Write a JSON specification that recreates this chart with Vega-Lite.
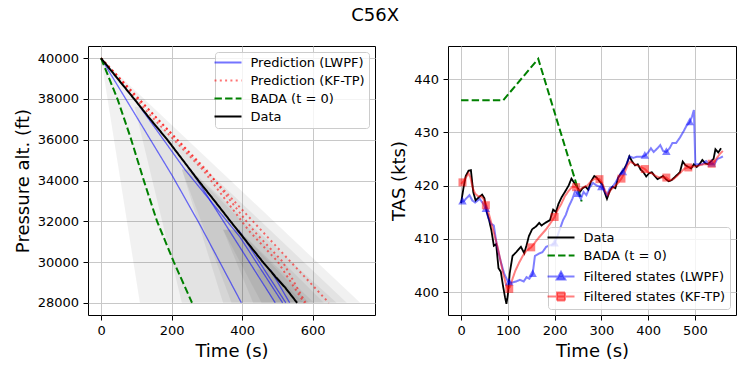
{
  "$schema": "https://vega.github.io/schema/vega-lite/v6.json",
  "padding": {"left": 13, "top": 6, "right": 5, "bottom": 5},
  "title": {"text": "C56X", "fontSize": 18, "font": "DejaVu Sans", "fontWeight": "normal", "color": "black", "anchor": "middle", "offset": 21},
  "datasets": {
    "cones": [
      {"cone": "c0", "alt": 40000, "lo": 0, "hi": 0}, {"cone": "c0", "alt": 28000, "lo": 110, "hi": 735},
      {"cone": "c1", "alt": 37624, "lo": 95, "hi": 110}, {"cone": "c1", "alt": 28000, "lo": 229, "hi": 697},
      {"cone": "c2", "alt": 34535, "lo": 229, "hi": 253}, {"cone": "c2", "alt": 28000, "lo": 346, "hi": 668},
      {"cone": "c3", "alt": 34535, "lo": 229, "hi": 253}, {"cone": "c3", "alt": 28000, "lo": 370, "hi": 632},
      {"cone": "c4", "alt": 31580, "lo": 346, "hi": 390}, {"cone": "c4", "alt": 28000, "lo": 431, "hi": 604},
      {"cone": "c5", "alt": 31580, "lo": 346, "hi": 390}, {"cone": "c5", "alt": 28000, "lo": 455, "hi": 590},
      {"cone": "c6", "alt": 29630, "lo": 440, "hi": 480}, {"cone": "c6", "alt": 28000, "lo": 490, "hi": 575}
    ],
    "alt": [
      {"series": "Prediction (LWPF)", "id": "b0", "t": 0, "alt": 40000},
      {"series": "Prediction (LWPF)", "id": "b0", "t": 203, "alt": 34205},
      {"series": "Prediction (LWPF)", "id": "b0", "t": 281, "alt": 31812},
      {"series": "Prediction (LWPF)", "id": "b0", "t": 398, "alt": 28000},
      {"series": "Prediction (LWPF)", "id": "b1", "t": 253, "alt": 34535},
      {"series": "Prediction (LWPF)", "id": "b1", "t": 281, "alt": 33796},
      {"series": "Prediction (LWPF)", "id": "b1", "t": 494, "alt": 28000},
      {"series": "Prediction (LWPF)", "id": "b2", "t": 110, "alt": 37624},
      {"series": "Prediction (LWPF)", "id": "b2", "t": 238, "alt": 34535},
      {"series": "Prediction (LWPF)", "id": "b2", "t": 393, "alt": 31250},
      {"series": "Prediction (LWPF)", "id": "b2", "t": 515, "alt": 28000},
      {"series": "Prediction (LWPF)", "id": "b3", "t": 390, "alt": 31580},
      {"series": "Prediction (LWPF)", "id": "b3", "t": 524, "alt": 28000},
      {"series": "Prediction (LWPF)", "id": "b4", "t": 480, "alt": 29630},
      {"series": "Prediction (LWPF)", "id": "b4", "t": 535, "alt": 28000},
      {"series": "Prediction (KF-TP)", "id": "rA", "t": 0, "alt": 40000},
      {"series": "Prediction (KF-TP)", "id": "rA", "t": 140, "alt": 37200},
      {"series": "Prediction (KF-TP)", "id": "rA", "t": 290, "alt": 34500},
      {"series": "Prediction (KF-TP)", "id": "rA", "t": 421, "alt": 31500},
      {"series": "Prediction (KF-TP)", "id": "rA", "t": 501, "alt": 30020},
      {"series": "Prediction (KF-TP)", "id": "rA", "t": 576, "alt": 28000},
      {"series": "Prediction (KF-TP)", "id": "rB", "t": 0, "alt": 40000},
      {"series": "Prediction (KF-TP)", "id": "rB", "t": 150, "alt": 37200},
      {"series": "Prediction (KF-TP)", "id": "rB", "t": 300, "alt": 34500},
      {"series": "Prediction (KF-TP)", "id": "rB", "t": 435, "alt": 31500},
      {"series": "Prediction (KF-TP)", "id": "rB", "t": 515, "alt": 30020},
      {"series": "Prediction (KF-TP)", "id": "rB", "t": 580, "alt": 28000},
      {"series": "Prediction (KF-TP)", "id": "rC", "t": 0, "alt": 40000},
      {"series": "Prediction (KF-TP)", "id": "rC", "t": 646, "alt": 28000},
      {"series": "BADA (t = 0)", "id": "g", "t": 0, "alt": 40000},
      {"series": "BADA (t = 0)", "id": "g", "t": 47, "alt": 37981},
      {"series": "BADA (t = 0)", "id": "g", "t": 84, "alt": 36091},
      {"series": "BADA (t = 0)", "id": "g", "t": 122, "alt": 33959},
      {"series": "BADA (t = 0)", "id": "g", "t": 159, "alt": 31990},
      {"series": "BADA (t = 0)", "id": "g", "t": 206, "alt": 30020},
      {"series": "BADA (t = 0)", "id": "g", "t": 258, "alt": 28000},
      {"series": "Data", "id": "d", "t": 0, "alt": 40000},
      {"series": "Data", "id": "d", "t": 47, "alt": 39000},
      {"series": "Data", "id": "d", "t": 94, "alt": 38000},
      {"series": "Data", "id": "d", "t": 140, "alt": 37000},
      {"series": "Data", "id": "d", "t": 188, "alt": 36000},
      {"series": "Data", "id": "d", "t": 232, "alt": 35000},
      {"series": "Data", "id": "d", "t": 276, "alt": 34000},
      {"series": "Data", "id": "d", "t": 322, "alt": 33000},
      {"series": "Data", "id": "d", "t": 367, "alt": 32000},
      {"series": "Data", "id": "d", "t": 413, "alt": 31000},
      {"series": "Data", "id": "d", "t": 459, "alt": 30000},
      {"series": "Data", "id": "d", "t": 496, "alt": 29250},
      {"series": "Data", "id": "d", "t": 522, "alt": 28750},
      {"series": "Data", "id": "d", "t": 556, "alt": 28000}
    ],
    "tas": [
      {"series": "Data", "t": 0, "v": 416.7}, {"series": "Data", "t": 5, "v": 419.5}, {"series": "Data", "t": 10, "v": 421.8},
      {"series": "Data", "t": 16, "v": 422.8}, {"series": "Data", "t": 21, "v": 422.9}, {"series": "Data", "t": 26, "v": 418.8},
      {"series": "Data", "t": 31, "v": 417.2}, {"series": "Data", "t": 38, "v": 417.8}, {"series": "Data", "t": 45, "v": 418.3},
      {"series": "Data", "t": 50, "v": 417.6}, {"series": "Data", "t": 55, "v": 415.0}, {"series": "Data", "t": 60, "v": 413.5},
      {"series": "Data", "t": 65, "v": 411.5}, {"series": "Data", "t": 70, "v": 408.7}, {"series": "Data", "t": 75, "v": 409.0},
      {"series": "Data", "t": 80, "v": 404.5}, {"series": "Data", "t": 85, "v": 403.8}, {"series": "Data", "t": 90, "v": 401.0},
      {"series": "Data", "t": 94, "v": 399.0}, {"series": "Data", "t": 97, "v": 397.8}, {"series": "Data", "t": 100, "v": 399.5},
      {"series": "Data", "t": 104, "v": 403.5}, {"series": "Data", "t": 110, "v": 406.8}, {"series": "Data", "t": 118, "v": 407.5},
      {"series": "Data", "t": 128, "v": 408.5}, {"series": "Data", "t": 135, "v": 407.3}, {"series": "Data", "t": 140, "v": 408.8},
      {"series": "Data", "t": 145, "v": 410.5}, {"series": "Data", "t": 152, "v": 411.8}, {"series": "Data", "t": 160, "v": 412.3},
      {"series": "Data", "t": 167, "v": 413.0}, {"series": "Data", "t": 172, "v": 412.5}, {"series": "Data", "t": 180, "v": 413.0},
      {"series": "Data", "t": 190, "v": 413.5}, {"series": "Data", "t": 197, "v": 415.5}, {"series": "Data", "t": 203, "v": 415.0},
      {"series": "Data", "t": 208, "v": 416.5}, {"series": "Data", "t": 215, "v": 417.8}, {"series": "Data", "t": 222, "v": 418.8},
      {"series": "Data", "t": 230, "v": 420.0}, {"series": "Data", "t": 236, "v": 421.3}, {"series": "Data", "t": 242, "v": 420.5},
      {"series": "Data", "t": 248, "v": 419.8}, {"series": "Data", "t": 254, "v": 418.8}, {"series": "Data", "t": 260, "v": 419.5},
      {"series": "Data", "t": 266, "v": 419.8}, {"series": "Data", "t": 272, "v": 419.2}, {"series": "Data", "t": 278, "v": 420.8},
      {"series": "Data", "t": 285, "v": 421.8}, {"series": "Data", "t": 290, "v": 421.5}, {"series": "Data", "t": 296, "v": 420.8},
      {"series": "Data", "t": 302, "v": 420.2}, {"series": "Data", "t": 308, "v": 418.5}, {"series": "Data", "t": 312, "v": 417.5},
      {"series": "Data", "t": 318, "v": 419.0}, {"series": "Data", "t": 324, "v": 419.8}, {"series": "Data", "t": 330, "v": 419.5},
      {"series": "Data", "t": 336, "v": 421.5}, {"series": "Data", "t": 342, "v": 422.3}, {"series": "Data", "t": 348, "v": 423.0},
      {"series": "Data", "t": 354, "v": 424.0}, {"series": "Data", "t": 360, "v": 425.5}, {"series": "Data", "t": 366, "v": 424.5},
      {"series": "Data", "t": 372, "v": 423.8}, {"series": "Data", "t": 378, "v": 424.0}, {"series": "Data", "t": 384, "v": 423.0},
      {"series": "Data", "t": 390, "v": 422.5}, {"series": "Data", "t": 396, "v": 421.7}, {"series": "Data", "t": 402, "v": 422.3},
      {"series": "Data", "t": 408, "v": 422.5}, {"series": "Data", "t": 414, "v": 421.8}, {"series": "Data", "t": 420, "v": 421.2},
      {"series": "Data", "t": 426, "v": 421.5}, {"series": "Data", "t": 432, "v": 421.8}, {"series": "Data", "t": 438, "v": 421.2},
      {"series": "Data", "t": 444, "v": 420.8}, {"series": "Data", "t": 450, "v": 421.0}, {"series": "Data", "t": 456, "v": 421.5},
      {"series": "Data", "t": 462, "v": 422.0}, {"series": "Data", "t": 468, "v": 422.5}, {"series": "Data", "t": 474, "v": 424.5},
      {"series": "Data", "t": 480, "v": 423.8}, {"series": "Data", "t": 486, "v": 423.5}, {"series": "Data", "t": 492, "v": 423.2},
      {"series": "Data", "t": 498, "v": 424.0}, {"series": "Data", "t": 504, "v": 423.5}, {"series": "Data", "t": 510, "v": 424.0},
      {"series": "Data", "t": 516, "v": 424.8}, {"series": "Data", "t": 522, "v": 424.2}, {"series": "Data", "t": 528, "v": 424.0},
      {"series": "Data", "t": 534, "v": 424.5}, {"series": "Data", "t": 540, "v": 425.0}, {"series": "Data", "t": 544, "v": 426.8},
      {"series": "Data", "t": 550, "v": 426.2}, {"series": "Data", "t": 556, "v": 427.0},
      {"series": "BADA (t = 0)", "t": 0, "v": 436.0}, {"series": "BADA (t = 0)", "t": 90, "v": 436.0},
      {"series": "BADA (t = 0)", "t": 165, "v": 443.8}, {"series": "BADA (t = 0)", "t": 258, "v": 417.0},
      {"series": "Filtered states (LWPF)", "t": 0, "v": 417.0}, {"series": "Filtered states (LWPF)", "t": 5, "v": 417.0},
      {"series": "Filtered states (LWPF)", "t": 10, "v": 417.5}, {"series": "Filtered states (LWPF)", "t": 18, "v": 418.2},
      {"series": "Filtered states (LWPF)", "t": 24, "v": 417.2}, {"series": "Filtered states (LWPF)", "t": 30, "v": 416.8},
      {"series": "Filtered states (LWPF)", "t": 40, "v": 417.5}, {"series": "Filtered states (LWPF)", "t": 48, "v": 416.5},
      {"series": "Filtered states (LWPF)", "t": 53, "v": 415.6}, {"series": "Filtered states (LWPF)", "t": 58, "v": 414.0},
      {"series": "Filtered states (LWPF)", "t": 64, "v": 412.8}, {"series": "Filtered states (LWPF)", "t": 70, "v": 412.5},
      {"series": "Filtered states (LWPF)", "t": 76, "v": 409.0}, {"series": "Filtered states (LWPF)", "t": 84, "v": 406.0},
      {"series": "Filtered states (LWPF)", "t": 92, "v": 403.5}, {"series": "Filtered states (LWPF)", "t": 100, "v": 402.0},
      {"series": "Filtered states (LWPF)", "t": 104, "v": 401.8}, {"series": "Filtered states (LWPF)", "t": 110, "v": 401.8},
      {"series": "Filtered states (LWPF)", "t": 118, "v": 402.0}, {"series": "Filtered states (LWPF)", "t": 126, "v": 402.3},
      {"series": "Filtered states (LWPF)", "t": 134, "v": 402.0}, {"series": "Filtered states (LWPF)", "t": 140, "v": 402.8},
      {"series": "Filtered states (LWPF)", "t": 146, "v": 402.5}, {"series": "Filtered states (LWPF)", "t": 153, "v": 403.4},
      {"series": "Filtered states (LWPF)", "t": 158, "v": 406.8}, {"series": "Filtered states (LWPF)", "t": 166, "v": 407.2},
      {"series": "Filtered states (LWPF)", "t": 174, "v": 407.5}, {"series": "Filtered states (LWPF)", "t": 182, "v": 408.5},
      {"series": "Filtered states (LWPF)", "t": 190, "v": 408.8}, {"series": "Filtered states (LWPF)", "t": 200, "v": 409.1},
      {"series": "Filtered states (LWPF)", "t": 206, "v": 410.5}, {"series": "Filtered states (LWPF)", "t": 212, "v": 412.0},
      {"series": "Filtered states (LWPF)", "t": 218, "v": 413.5}, {"series": "Filtered states (LWPF)", "t": 224, "v": 414.5},
      {"series": "Filtered states (LWPF)", "t": 230, "v": 416.0}, {"series": "Filtered states (LWPF)", "t": 238, "v": 417.5},
      {"series": "Filtered states (LWPF)", "t": 244, "v": 419.0}, {"series": "Filtered states (LWPF)", "t": 250, "v": 418.4},
      {"series": "Filtered states (LWPF)", "t": 256, "v": 417.5}, {"series": "Filtered states (LWPF)", "t": 262, "v": 418.8},
      {"series": "Filtered states (LWPF)", "t": 268, "v": 418.2}, {"series": "Filtered states (LWPF)", "t": 274, "v": 419.5},
      {"series": "Filtered states (LWPF)", "t": 282, "v": 420.5}, {"series": "Filtered states (LWPF)", "t": 290, "v": 420.0},
      {"series": "Filtered states (LWPF)", "t": 300, "v": 419.7}, {"series": "Filtered states (LWPF)", "t": 306, "v": 419.0},
      {"series": "Filtered states (LWPF)", "t": 312, "v": 418.2}, {"series": "Filtered states (LWPF)", "t": 318, "v": 419.5},
      {"series": "Filtered states (LWPF)", "t": 324, "v": 419.8}, {"series": "Filtered states (LWPF)", "t": 330, "v": 420.5},
      {"series": "Filtered states (LWPF)", "t": 336, "v": 421.5}, {"series": "Filtered states (LWPF)", "t": 346, "v": 422.5},
      {"series": "Filtered states (LWPF)", "t": 352, "v": 423.5}, {"series": "Filtered states (LWPF)", "t": 360, "v": 425.5},
      {"series": "Filtered states (LWPF)", "t": 368, "v": 425.2}, {"series": "Filtered states (LWPF)", "t": 376, "v": 425.4},
      {"series": "Filtered states (LWPF)", "t": 386, "v": 425.4}, {"series": "Filtered states (LWPF)", "t": 393, "v": 425.6},
      {"series": "Filtered states (LWPF)", "t": 400, "v": 426.2}, {"series": "Filtered states (LWPF)", "t": 406, "v": 427.0},
      {"series": "Filtered states (LWPF)", "t": 412, "v": 426.3}, {"series": "Filtered states (LWPF)", "t": 420, "v": 427.0},
      {"series": "Filtered states (LWPF)", "t": 426, "v": 427.6}, {"series": "Filtered states (LWPF)", "t": 432, "v": 426.5},
      {"series": "Filtered states (LWPF)", "t": 439, "v": 426.3}, {"series": "Filtered states (LWPF)", "t": 446, "v": 427.0},
      {"series": "Filtered states (LWPF)", "t": 452, "v": 428.0}, {"series": "Filtered states (LWPF)", "t": 460, "v": 428.0},
      {"series": "Filtered states (LWPF)", "t": 468, "v": 429.0}, {"series": "Filtered states (LWPF)", "t": 476, "v": 430.2},
      {"series": "Filtered states (LWPF)", "t": 482, "v": 431.2}, {"series": "Filtered states (LWPF)", "t": 489, "v": 431.9},
      {"series": "Filtered states (LWPF)", "t": 494, "v": 433.0}, {"series": "Filtered states (LWPF)", "t": 498, "v": 434.2},
      {"series": "Filtered states (LWPF)", "t": 501, "v": 424.0}, {"series": "Filtered states (LWPF)", "t": 508, "v": 424.0},
      {"series": "Filtered states (LWPF)", "t": 516, "v": 424.0}, {"series": "Filtered states (LWPF)", "t": 524, "v": 424.6},
      {"series": "Filtered states (LWPF)", "t": 530, "v": 424.0}, {"series": "Filtered states (LWPF)", "t": 536, "v": 424.1},
      {"series": "Filtered states (LWPF)", "t": 542, "v": 424.0}, {"series": "Filtered states (LWPF)", "t": 548, "v": 425.0},
      {"series": "Filtered states (LWPF)", "t": 554, "v": 425.2}, {"series": "Filtered states (LWPF)", "t": 560, "v": 425.5},
      {"series": "Filtered states (KF-TP)", "t": 0, "v": 420.3}, {"series": "Filtered states (KF-TP)", "t": 5, "v": 420.8},
      {"series": "Filtered states (KF-TP)", "t": 10, "v": 421.5}, {"series": "Filtered states (KF-TP)", "t": 16, "v": 422.3},
      {"series": "Filtered states (KF-TP)", "t": 20, "v": 421.5}, {"series": "Filtered states (KF-TP)", "t": 25, "v": 419.5},
      {"series": "Filtered states (KF-TP)", "t": 30, "v": 418.5}, {"series": "Filtered states (KF-TP)", "t": 36, "v": 418.0},
      {"series": "Filtered states (KF-TP)", "t": 42, "v": 418.0}, {"series": "Filtered states (KF-TP)", "t": 48, "v": 417.5},
      {"series": "Filtered states (KF-TP)", "t": 54, "v": 416.3}, {"series": "Filtered states (KF-TP)", "t": 60, "v": 414.5},
      {"series": "Filtered states (KF-TP)", "t": 66, "v": 412.5}, {"series": "Filtered states (KF-TP)", "t": 72, "v": 410.5},
      {"series": "Filtered states (KF-TP)", "t": 78, "v": 408.5}, {"series": "Filtered states (KF-TP)", "t": 84, "v": 406.0},
      {"series": "Filtered states (KF-TP)", "t": 90, "v": 403.5}, {"series": "Filtered states (KF-TP)", "t": 96, "v": 401.5},
      {"series": "Filtered states (KF-TP)", "t": 100, "v": 400.6}, {"series": "Filtered states (KF-TP)", "t": 105, "v": 401.0},
      {"series": "Filtered states (KF-TP)", "t": 110, "v": 402.5}, {"series": "Filtered states (KF-TP)", "t": 116, "v": 404.0},
      {"series": "Filtered states (KF-TP)", "t": 124, "v": 405.5}, {"series": "Filtered states (KF-TP)", "t": 132, "v": 406.8},
      {"series": "Filtered states (KF-TP)", "t": 140, "v": 407.8}, {"series": "Filtered states (KF-TP)", "t": 150, "v": 408.4},
      {"series": "Filtered states (KF-TP)", "t": 158, "v": 409.3}, {"series": "Filtered states (KF-TP)", "t": 166, "v": 410.2},
      {"series": "Filtered states (KF-TP)", "t": 174, "v": 411.0}, {"series": "Filtered states (KF-TP)", "t": 182, "v": 411.8},
      {"series": "Filtered states (KF-TP)", "t": 190, "v": 412.8}, {"series": "Filtered states (KF-TP)", "t": 200, "v": 414.1},
      {"series": "Filtered states (KF-TP)", "t": 206, "v": 415.3}, {"series": "Filtered states (KF-TP)", "t": 214, "v": 416.5},
      {"series": "Filtered states (KF-TP)", "t": 222, "v": 418.0}, {"series": "Filtered states (KF-TP)", "t": 230, "v": 419.0},
      {"series": "Filtered states (KF-TP)", "t": 238, "v": 419.8}, {"series": "Filtered states (KF-TP)", "t": 246, "v": 419.7},
      {"series": "Filtered states (KF-TP)", "t": 252, "v": 419.0}, {"series": "Filtered states (KF-TP)", "t": 258, "v": 419.5},
      {"series": "Filtered states (KF-TP)", "t": 264, "v": 419.8}, {"series": "Filtered states (KF-TP)", "t": 270, "v": 420.0},
      {"series": "Filtered states (KF-TP)", "t": 278, "v": 420.8}, {"series": "Filtered states (KF-TP)", "t": 286, "v": 421.3},
      {"series": "Filtered states (KF-TP)", "t": 296, "v": 421.2}, {"series": "Filtered states (KF-TP)", "t": 302, "v": 420.5},
      {"series": "Filtered states (KF-TP)", "t": 308, "v": 419.0}, {"series": "Filtered states (KF-TP)", "t": 314, "v": 418.2},
      {"series": "Filtered states (KF-TP)", "t": 320, "v": 419.2}, {"series": "Filtered states (KF-TP)", "t": 328, "v": 419.8},
      {"series": "Filtered states (KF-TP)", "t": 336, "v": 420.5}, {"series": "Filtered states (KF-TP)", "t": 343, "v": 421.3},
      {"series": "Filtered states (KF-TP)", "t": 350, "v": 422.5}, {"series": "Filtered states (KF-TP)", "t": 356, "v": 423.8},
      {"series": "Filtered states (KF-TP)", "t": 362, "v": 424.5}, {"series": "Filtered states (KF-TP)", "t": 368, "v": 424.2},
      {"series": "Filtered states (KF-TP)", "t": 376, "v": 423.8}, {"series": "Filtered states (KF-TP)", "t": 384, "v": 423.5},
      {"series": "Filtered states (KF-TP)", "t": 393, "v": 423.1}, {"series": "Filtered states (KF-TP)", "t": 400, "v": 422.5},
      {"series": "Filtered states (KF-TP)", "t": 408, "v": 422.3}, {"series": "Filtered states (KF-TP)", "t": 416, "v": 421.8},
      {"series": "Filtered states (KF-TP)", "t": 424, "v": 421.5}, {"series": "Filtered states (KF-TP)", "t": 432, "v": 421.5},
      {"series": "Filtered states (KF-TP)", "t": 439, "v": 421.5}, {"series": "Filtered states (KF-TP)", "t": 446, "v": 421.0},
      {"series": "Filtered states (KF-TP)", "t": 454, "v": 421.2}, {"series": "Filtered states (KF-TP)", "t": 462, "v": 421.8},
      {"series": "Filtered states (KF-TP)", "t": 470, "v": 422.5}, {"series": "Filtered states (KF-TP)", "t": 478, "v": 423.2},
      {"series": "Filtered states (KF-TP)", "t": 486, "v": 423.4}, {"series": "Filtered states (KF-TP)", "t": 494, "v": 423.6},
      {"series": "Filtered states (KF-TP)", "t": 502, "v": 423.6}, {"series": "Filtered states (KF-TP)", "t": 510, "v": 423.8},
      {"series": "Filtered states (KF-TP)", "t": 518, "v": 424.0}, {"series": "Filtered states (KF-TP)", "t": 526, "v": 424.0},
      {"series": "Filtered states (KF-TP)", "t": 536, "v": 424.1}, {"series": "Filtered states (KF-TP)", "t": 542, "v": 424.5},
      {"series": "Filtered states (KF-TP)", "t": 548, "v": 425.3}, {"series": "Filtered states (KF-TP)", "t": 554, "v": 426.0},
      {"series": "Filtered states (KF-TP)", "t": 560, "v": 426.5}
    ],
    "lwpfMarks": [
      {"t": 3, "v": 417.0}, {"t": 53, "v": 415.6}, {"t": 103, "v": 401.8}, {"t": 153, "v": 403.4},
      {"t": 200, "v": 409.1}, {"t": 250, "v": 418.4}, {"t": 300, "v": 419.7}, {"t": 346, "v": 422.5},
      {"t": 393, "v": 425.6}, {"t": 439, "v": 426.3}, {"t": 489, "v": 431.9}, {"t": 536, "v": 424.1}
    ],
    "kfMarks": [
      {"t": 3, "v": 420.6}, {"t": 53, "v": 416.3}, {"t": 103, "v": 400.6}, {"t": 150, "v": 408.4},
      {"t": 200, "v": 414.1}, {"t": 246, "v": 419.7}, {"t": 296, "v": 421.2}, {"t": 343, "v": 421.3},
      {"t": 393, "v": 423.1}, {"t": 439, "v": 421.5}, {"t": 486, "v": 423.4}, {"t": 536, "v": 424.1}
    ]
  },
  "hconcat": [
    {
      "width": 287,
      "height": 269,
      "layer": [
        {
          "data": {"name": "cones"},
          "mark": {"type": "area", "orient": "horizontal", "color": "black", "opacity": 0.055},
          "encoding": {
            "y": {"field": "alt", "type": "quantitative", "scale": {"domain": [27400, 40600], "nice": false, "zero": false},
                  "axis": {"values": [28000, 30000, 32000, 34000, 36000, 38000, 40000], "format": "d", "title": "Pressure alt. (ft)"}},
            "x": {"field": "lo", "type": "quantitative", "scale": {"domain": [-37, 777], "nice": false, "zero": false},
                  "axis": {"values": [0, 200, 400, 600], "title": "Time (s)"}},
            "x2": {"field": "hi"},
            "detail": {"field": "cone", "type": "nominal"}
          }
        },
        {
          "data": {"name": "alt"},
          "mark": {"type": "line"},
          "encoding": {
            "y": {"field": "alt", "type": "quantitative", "title": "Pressure alt. (ft)"},
            "x": {"field": "t", "type": "quantitative", "title": "Time (s)"},
            "detail": {"field": "id", "type": "nominal"},
            "order": {"field": "t", "type": "quantitative"},
            "color": {
              "field": "series", "type": "nominal",
              "scale": {"domain": ["Prediction (LWPF)", "Prediction (KF-TP)", "BADA (t = 0)", "Data"], "range": ["rgba(0,0,255,0.55)", "rgba(255,0,0,0.55)", "#008000", "#000000"]},
              "legend": {
                "title": null, "orient": "top-right", "offset": 6, "padding": 4,
                "fillColor": "rgba(255,255,255,0.8)", "strokeColor": "#cccccc", "cornerRadius": 3,
                "labelFont": "DejaVu Sans", "labelFontSize": 13, "labelColor": "black", "labelLimit": 300,
                "symbolType": "M-2.7,0H2.7", "symbolSize": 100, "symbolStrokeWidth": 2, "rowPadding": 4,
                "symbolOffset": 2.5, "labelOffset": 16
              }
            },
            "strokeDash": {
              "field": "series", "type": "nominal",
              "scale": {"domain": ["Prediction (LWPF)", "Prediction (KF-TP)", "BADA (t = 0)", "Data"], "range": [[1, 0], [2, 3.3], [7.4, 3.2], [1, 0]]},
              "legend": {"title": null}
            },
            "strokeWidth": {"condition": {"test": "datum.series === 'Prediction (LWPF)'", "value": 1.3}, "value": 2}
          }
        }
      ]
    },
    {
      "width": 288,
      "height": 269,
      "layer": [
        {
          "data": {"name": "tas"},
          "mark": {"type": "line"},
          "encoding": {
            "x": {"field": "t", "type": "quantitative", "scale": {"domain": [-28, 588], "nice": false, "zero": false},
                  "axis": {"values": [0, 100, 200, 300, 400, 500], "title": "Time (s)"}},
            "y": {"field": "v", "type": "quantitative", "scale": {"domain": [395.7, 446.2], "nice": false, "zero": false},
                  "axis": {"values": [400, 410, 420, 430, 440], "title": "TAS (kts)"}},
            "order": {"field": "t", "type": "quantitative"},
            "color": {
              "field": "series", "type": "nominal",
              "scale": {"domain": ["Data", "BADA (t = 0)", "Filtered states (LWPF)", "Filtered states (KF-TP)"], "range": ["#000000", "#008000", "rgba(0,0,255,0.5)", "rgba(255,0,0,0.5)"]},
              "legend": {
                "title": null, "orient": "bottom-right", "offset": 6.5, "padding": 4,
                "fillColor": "rgba(255,255,255,0.8)", "strokeColor": "#cccccc", "cornerRadius": 3,
                "labelFont": "DejaVu Sans", "labelFontSize": 13, "labelColor": "black", "labelLimit": 300,
                "symbolSize": 100, "symbolStrokeWidth": 2, "symbolOpacity": 1, "rowPadding": 4,
                "symbolOffset": 2.5, "labelOffset": 16
              }
            },
            "strokeDash": {
              "field": "series", "type": "nominal",
              "scale": {"domain": ["Data", "BADA (t = 0)", "Filtered states (LWPF)", "Filtered states (KF-TP)"], "range": [[1, 0], [7.4, 3.2], [1, 0], [1, 0]]},
              "legend": {"title": null}
            },
            "strokeWidth": {"condition": {"test": "datum.series === 'Data'", "value": 1.8}, "value": 2}
          }
        },
        {
          "data": {"values": []},
          "mark": {"type": "point", "filled": true, "opacity": 1},
          "encoding": {
            "x": {"field": "t", "type": "quantitative", "title": "Time (s)"},
            "y": {"field": "v", "type": "quantitative", "title": "TAS (kts)"},
            "color": {"field": "series", "type": "nominal", "legend": {"title": null, "symbolOpacity": 1}},
            "shape": {
              "field": "series", "type": "nominal",
              "scale": {"domain": ["Data", "BADA (t = 0)", "Filtered states (LWPF)", "Filtered states (KF-TP)"],
                        "range": ["M-2.7,0H2.7", "M-2.7,0H2.7", "M-2.7,0H2.7M0,-0.95L0.85,0.6L-0.85,0.6Z", "M-2.7,0H2.7M-0.8,-0.8H0.8V0.8H-0.8Z"]},
              "legend": {"title": null, "symbolOpacity": 1}
            }
          }
        },
        {
          "data": {"name": "lwpfMarks"},
          "mark": {"type": "point", "shape": "M0,-0.95L0.85,0.6L-0.85,0.6Z", "filled": true, "color": "#0000ff", "opacity": 0.5, "size": 100},
          "encoding": {
            "x": {"field": "t", "type": "quantitative", "title": "Time (s)"},
            "y": {"field": "v", "type": "quantitative", "title": "TAS (kts)"}
          }
        },
        {
          "data": {"name": "kfMarks"},
          "mark": {"type": "point", "shape": "square", "filled": true, "color": "#ff0000", "opacity": 0.5, "size": 64},
          "encoding": {
            "x": {"field": "t", "type": "quantitative", "title": "Time (s)"},
            "y": {"field": "v", "type": "quantitative", "title": "TAS (kts)"}
          }
        }
      ]
    }
  ],
  "resolve": {"scale": {"color": "independent", "strokeDash": "independent", "shape": "independent", "x": "independent", "y": "independent"}},
  "config": {
    "font": "DejaVu Sans",
    "view": {"stroke": "#000000", "strokeWidth": 1},
    "concat": {"spacing": 14},
    "axis": {
      "labelFont": "DejaVu Sans", "labelFontSize": 13, "labelColor": "black",
      "titleFont": "DejaVu Sans", "titleFontSize": 18, "titleFontWeight": "normal", "titleColor": "black",
      "tickColor": "black", "tickSize": 5, "tickWidth": 1, "domain": false,
      "gridColor": "#c8c8c8", "gridWidth": 1, "labelPadding": 4.5, "titlePadding": 5
    }
  }
}
